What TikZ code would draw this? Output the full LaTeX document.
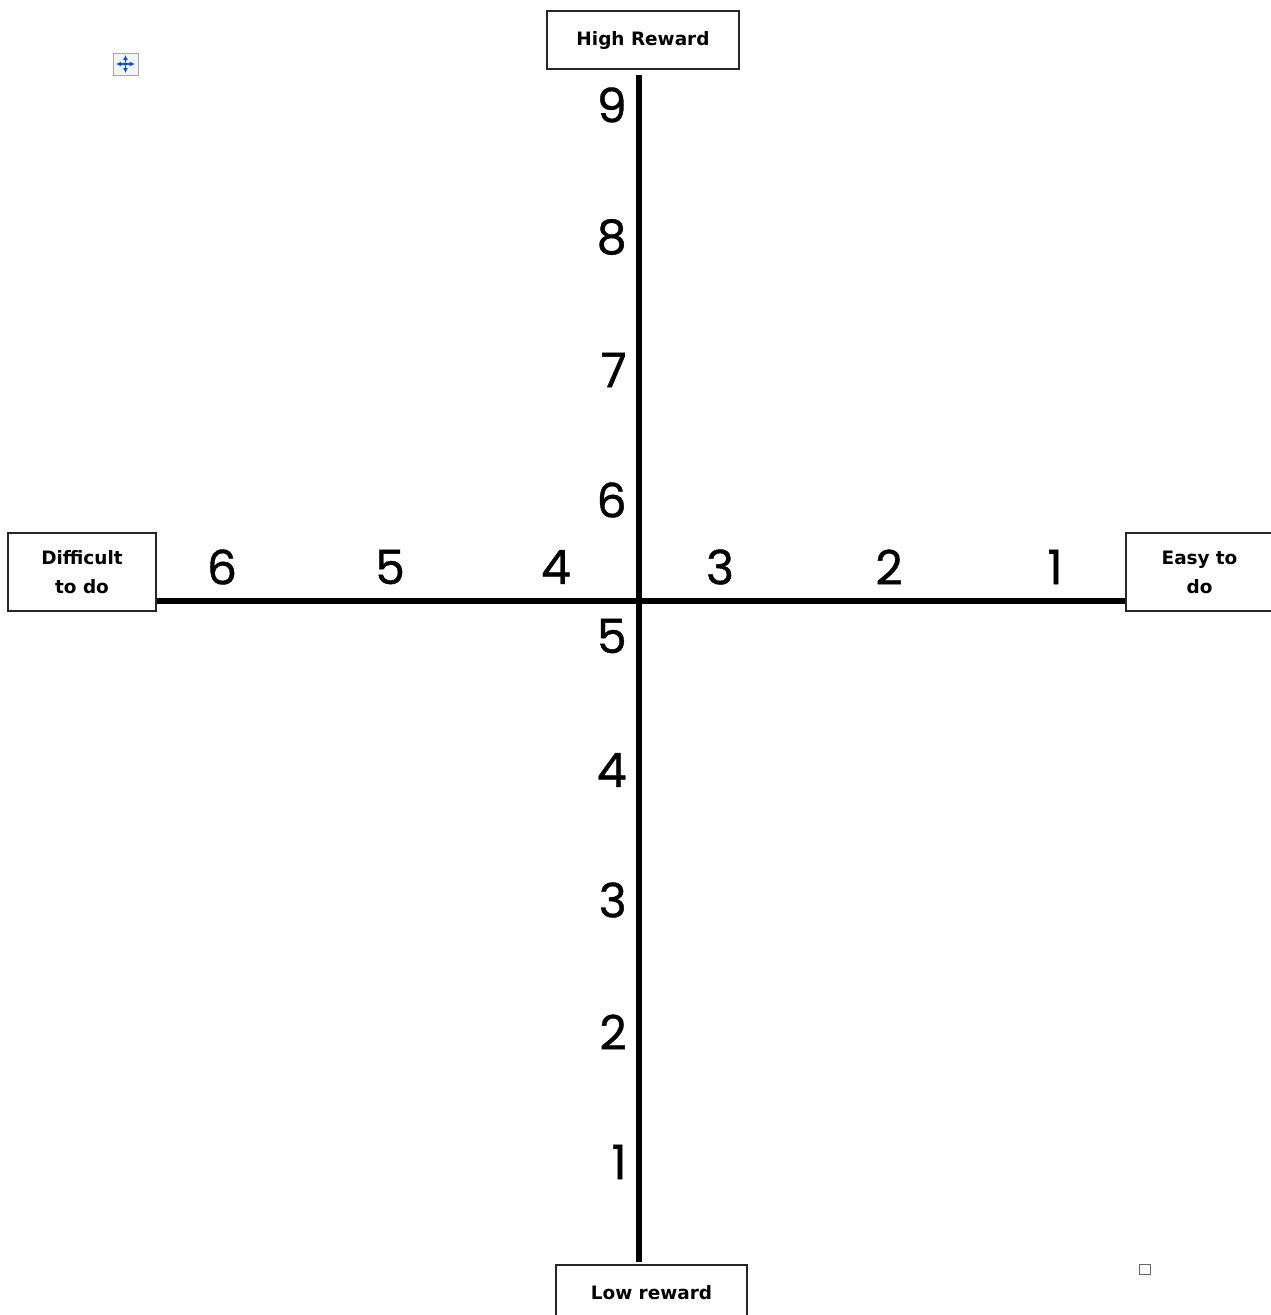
\documentclass[tikz,border=0pt]{standalone}
\usepackage{fontspec}
\setmainfont{Poppins}
\newfontfamily\numfont{Poppins}[FakeBold=0.8]
\newfontfamily\boxfont{DejaVu Sans}
\usetikzlibrary{arrows.meta}

\tikzset{
    endbox/.style={draw=black!85, line width=0.8pt, fill=white, align=center,
        font=\boxfont\bfseries\fontsize{10.5}{16.5}\selectfont, inner sep=0pt},
    axisline/.style={line width=2.9pt, black},
    ticknum/.style={font=\numfont\fontsize{27}{30}\selectfont, inner sep=0pt},
    movetip/.style={{Latex[length=0.1cm,width=0.1cm]}-{Latex[length=0.1cm,width=0.1cm]}}
}

\begin{document}
\begin{tikzpicture}[x=0.02cm, y=-0.02cm]
    \useasboundingbox (0,0) rectangle (1271,1315);

    % Axis position
    \def\axisx{639};
    \def\axisy{601};

    % End boxes
    \node[endbox, minimum width=192*0.02cm, minimum height=58*0.02cm] (high) at (643,40) {High Reward};
    \node[endbox, minimum width=148*0.02cm, minimum height=78*0.02cm] (difficult) at (82,572) {Difficult\\to do};
    \node[endbox, minimum width=147*0.02cm, minimum height=78*0.02cm, text width=100*0.02cm] (easy) at (1199.5,572) {Easy to\\do};
    \node[endbox, minimum width=191*0.02cm, minimum height=56*0.02cm] (low) at (651.5,1293) {Low reward};

    % Axes
    \coordinate (top) at (\axisx,75);
    \coordinate (bottom) at (\axisx,1262);
    \coordinate (left) at (difficult.east |- 0,\axisy);
    \coordinate (right) at (easy.west |- 0,\axisy);
    \draw[axisline] (top) -- (bottom);
    \draw[axisline] (left) -- (right);

    % Reward numbers along the vertical axis
    \foreach \n/\y in {9/105, 8/237, 7/370, 6/500, 5/636, 4/770, 3/900, 2/1032, 1/1162} {
        \node[ticknum, anchor=east] (r\n) at (627,\y) {\n};
    }

    % Effort numbers along the horizontal axis
    \foreach \n/\x in {6/222, 5/390, 4/556, 3/720, 2/889, 1/1055} {
        \node[ticknum] (e\n) at (\x,567) {\n};
    }

    % Move handle and resize square
    \draw[black!35, fill=black!4] (113,53) rectangle (138,75);
    \draw[blue!70!cyan, line width=0.9pt, movetip] (116,64) -- (135,64);
    \draw[blue!70!cyan, line width=0.9pt, movetip] (125.5,55) -- (125.5,73);
    \draw[black!60, line width=0.5pt] (1139,1264) rectangle (1150,1274);
\end{tikzpicture}
\end{document}
